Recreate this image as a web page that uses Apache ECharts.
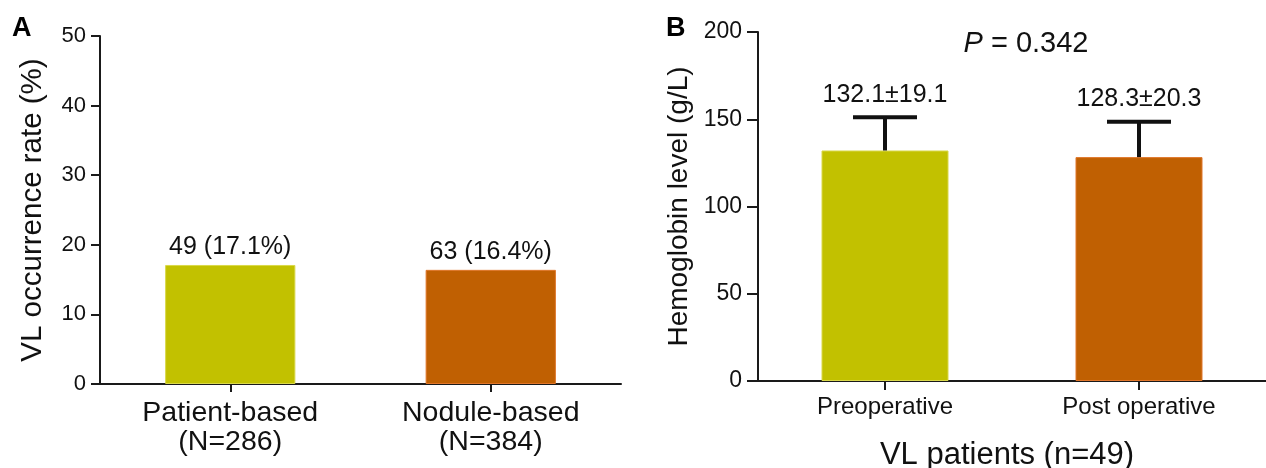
<!DOCTYPE html>
<html>
<head>
<meta charset="utf-8">
<script src="https://cdn.jsdelivr.net/npm/echarts@6/dist/echarts.min.js"></script>
<style>
html,body{margin:0;padding:0;background:#fff;}
#chart{width:1266px;height:468px;}
</style>
</head>
<body>
<div id="chart"></div>
<script>
// Panel A data
const catsA = ['Patient-based\n(N=286)', 'Nodule-based\n(N=384)'];
const countsA = [49, 63];
const ratesA = [17.1, 16.4];
const ticksA = { min: 0, max: 50, interval: 10 };

// Panel B data
const catsB = ['Preoperative', 'Post operative'];
const meansB = [132.1, 128.3];
const sdsB = [19.1, 20.3];
const ticksB = { min: 0, max: 200, interval: 50 };
const pText = '0.342';

const colors = ['#C2C100', '#C06002'];
const borders = ['#D9D84A', '#E0762A'];
const FONT = 'Liberation Sans, Arial, sans-serif';
const AX = '#1a1a1a';

const chart = echarts.init(document.getElementById('chart'), null, { renderer: 'canvas' });

function axisCommon() {
  return {
    axisLine: { show: true, lineStyle: { color: AX, width: 2 } },
    splitLine: { show: false }
  };
}

const option = {
  backgroundColor: '#fff',
  animation: false,
  grid: [
    { left: 100, top: 36, width: 521, height: 348 },
    { left: 758, top: 32, width: 525, height: 349 }
  ],
  xAxis: [
    Object.assign(axisCommon(), {
      type: 'category', gridIndex: 0, data: catsA, boundaryGap: true,
      axisTick: { show: true, alignWithLabel: true, length: 8, lineStyle: { color: AX, width: 2 } },
      axisLabel: { color: '#111', fontFamily: FONT, fontSize: 28.5, lineHeight: 29, margin: 15 }
    }),
    Object.assign(axisCommon(), {
      type: 'category', gridIndex: 1, data: catsB, boundaryGap: true,
      axisTick: { show: true, alignWithLabel: true, length: 9, lineStyle: { color: AX, width: 2 } },
      axisLabel: { color: '#111', fontFamily: FONT, fontSize: 24, margin: 14 }
    })
  ],
  yAxis: [
    Object.assign(axisCommon(), {
      type: 'value', gridIndex: 0, min: ticksA.min, max: ticksA.max, interval: ticksA.interval,
      axisTick: { show: true, length: 9, lineStyle: { color: AX, width: 2 } },
      axisLabel: { color: '#111', fontFamily: FONT, fontSize: 22, margin: 14 },
      name: 'VL occurrence rate (%)', nameLocation: 'middle', nameGap: 52, nameRotate: 90,
      nameTextStyle: { color: '#111', fontFamily: FONT, fontSize: 29.5 }
    }),
    Object.assign(axisCommon(), {
      type: 'value', gridIndex: 1, min: ticksB.min, max: ticksB.max, interval: ticksB.interval,
      axisTick: { show: true, length: 11, lineStyle: { color: AX, width: 2 } },
      axisLabel: { color: '#111', fontFamily: FONT, fontSize: 23, margin: 16 },
      name: 'Hemoglobin level (g/L)', nameLocation: 'middle', nameGap: 65, nameRotate: 90,
      nameTextStyle: { color: '#111', fontFamily: FONT, fontSize: 28 }
    })
  ],
  series: [
    {
      type: 'bar', xAxisIndex: 0, yAxisIndex: 0, barWidth: '50%',
      data: ratesA.map((v, i) => ({ value: v, itemStyle: { color: colors[i], borderColor: borders[i], borderWidth: 1 } })),
      label: {
        show: true, position: 'top', distance: 5, color: '#111', fontFamily: FONT, fontSize: 25,
        formatter: p => countsA[p.dataIndex] + ' (' + ratesA[p.dataIndex] + '%)'
      }
    },
    {
      type: 'bar', xAxisIndex: 1, yAxisIndex: 1, barWidth: '50%',
      data: meansB.map((v, i) => ({ value: v, itemStyle: { color: colors[i], borderColor: borders[i], borderWidth: 1 } }))
    },
    {
      type: 'custom', xAxisIndex: 1, yAxisIndex: 1, z: 5,
      data: meansB.map((m, i) => [i, m, sdsB[i]]),
      renderItem: function (params, api) {
        const i = api.value(0), m = api.value(1), sd = api.value(2);
        const base = api.coord([i, m]);
        const top = api.coord([i, m + sd]);
        const half = 32;
        return {
          type: 'group',
          children: [
            { type: 'line', shape: { x1: base[0], y1: base[1], x2: top[0], y2: top[1] }, style: { stroke: '#111', lineWidth: 4 } },
            { type: 'line', shape: { x1: top[0] - half, y1: top[1], x2: top[0] + half, y2: top[1] }, style: { stroke: '#111', lineWidth: 4 } },
            { type: 'text', x: top[0], y: top[1] - 10, style: { text: m.toFixed(1) + '±' + sd.toFixed(1), fill: '#111', font: '25px ' + FONT, align: 'center', verticalAlign: 'bottom' } }
          ]
        };
      }
    }
  ],
  graphic: [
    { type: 'text', left: 12, top: 15, style: { text: 'A', fill: '#000', font: 'bold 27px ' + FONT } },
    { type: 'text', left: 666, top: 15, style: { text: 'B', fill: '#000', font: 'bold 27px ' + FONT } },
    { type: 'text', x: 1026, y: 44, style: {
        text: '{i|P} = ' + pText, align: 'center', verticalAlign: 'middle', fill: '#111', font: '29px ' + FONT,
        rich: { i: { fontStyle: 'italic', fontSize: 29, fontFamily: FONT, fill: '#111' } } } },
    { type: 'text', x: 1007, y: 455, style: { text: 'VL patients (n=49)', align: 'center', verticalAlign: 'middle', fill: '#111', font: '31px ' + FONT } }
  ]
};
chart.setOption(option);
</script>
</body>
</html>
